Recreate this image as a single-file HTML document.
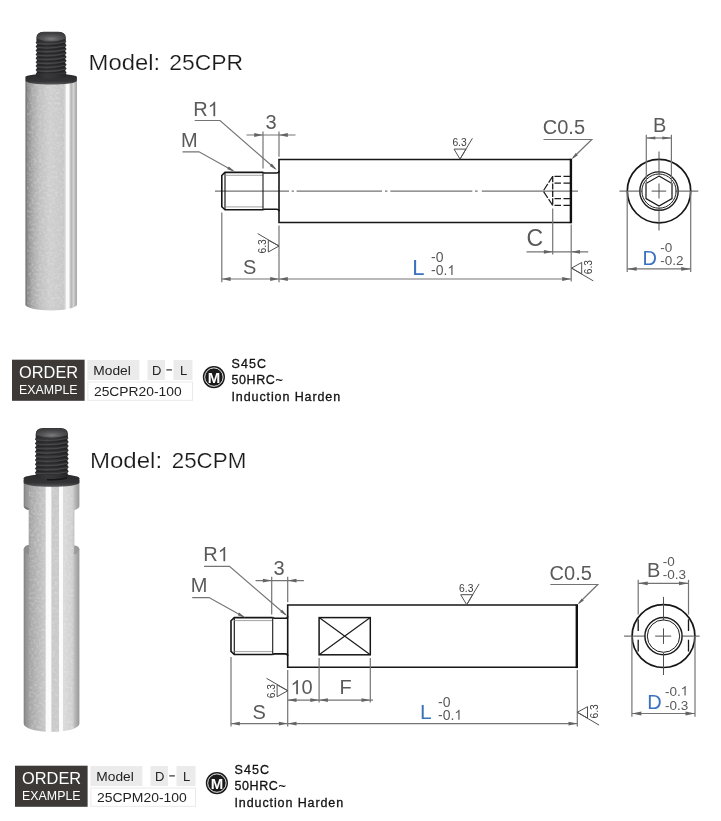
<!DOCTYPE html>
<html><head><meta charset="utf-8">
<style>
html,body{margin:0;padding:0;background:#fff;}
body{width:721px;height:821px;overflow:hidden;position:relative;font-family:"Liberation Sans",sans-serif;}
svg{position:absolute;left:0;top:0;will-change:transform;}
svg text{font-family:"Liberation Sans",sans-serif;}
.t{fill:#5a5a5a;font-size:20px;}
.t63{fill:#3c3c3c;font-size:10.3px;}
.sf{stroke:#505050;stroke-width:1;fill:none;}
.ts{fill:#5a5a5a;font-size:14px;}
.tb{fill:#3a72c0;font-size:22px;}
.title{fill:#1a1a1a;font-size:22px;stroke:#fff;stroke-width:0.2;paint-order:fill stroke;}
.k{stroke:#161616;stroke-width:1.6;fill:none;}
.kt{stroke:#1c1c1c;stroke-width:0.8;fill:none;}
.kk{stroke:#111;stroke-width:2.4;fill:none;}
.d{stroke:#747474;stroke-width:1.2;fill:none;}
.kg{stroke:#8a8a8a;stroke-width:0.8;fill:none;}
.a{fill:#646464;stroke:none;}
.c{stroke:#505050;stroke-width:1;fill:none;}
</style></head><body>
<svg width="721" height="821" viewBox="0 0 721 821">
<defs>

<linearGradient id="cyl" x1="0" x2="1" y1="0" y2="0">
<stop offset="0" stop-color="#6e6e6e"/><stop offset="0.04" stop-color="#8a8a8a"/>
<stop offset="0.13" stop-color="#a8a8a8"/><stop offset="0.27" stop-color="#c0c0c0"/><stop offset="0.47" stop-color="#cfcfcf"/>
<stop offset="0.74" stop-color="#c8c8c8"/><stop offset="0.775" stop-color="#d8d8d8"/>
<stop offset="0.79" stop-color="#fafafa"/><stop offset="0.845" stop-color="#fafafa"/>
<stop offset="0.87" stop-color="#c8c8c8"/><stop offset="0.9" stop-color="#b6b6b6"/>
<stop offset="0.93" stop-color="#d6d6d6"/><stop offset="0.96" stop-color="#c0c0c0"/>
<stop offset="1" stop-color="#9a9a9a"/>
</linearGradient>
<linearGradient id="thr" x1="0" x2="1" y1="0" y2="0">
<stop offset="0" stop-color="#29292b"/><stop offset="0.35" stop-color="#38383a"/>
<stop offset="0.6" stop-color="#343436"/><stop offset="1" stop-color="#262628"/>
</linearGradient>
<linearGradient id="col" x1="0" x2="0" y1="0" y2="1">
<stop offset="0" stop-color="#2a2a2c"/><stop offset="0.7" stop-color="#343436"/><stop offset="1" stop-color="#5a5a5c"/>
</linearGradient>
<radialGradient id="cap" cx="0.5" cy="0.72" r="0.62">
<stop offset="0" stop-color="#7c7c7e"/><stop offset="0.45" stop-color="#58585a"/><stop offset="1" stop-color="#3e3e40"/>
</radialGradient>

<filter id="noise" x="0" y="0" width="1" height="1"><feTurbulence type="fractalNoise" baseFrequency="0.38" numOctaves="2" seed="7" result="n"/>
<feColorMatrix in="n" type="matrix" values="0 0 0 0 1  0 0 0 0 1  0 0 0 0 1  2.2 0 0 0 -0.95"/><feComposite operator="in" in2="SourceGraphic"/></filter>

<linearGradient id="cyl2" x1="0" x2="1" y1="0" y2="0">
<stop offset="0" stop-color="#7e7e7e"/><stop offset="0.04" stop-color="#959595"/>
<stop offset="0.12" stop-color="#a6a6a6"/><stop offset="0.28" stop-color="#bcbcbc"/>
<stop offset="0.385" stop-color="#c8c8c8"/><stop offset="0.405" stop-color="#fbfbfb"/>
<stop offset="0.49" stop-color="#fbfbfb"/><stop offset="0.505" stop-color="#cacaca"/>
<stop offset="0.625" stop-color="#cacaca"/><stop offset="0.64" stop-color="#fbfbfb"/>
<stop offset="0.70" stop-color="#fbfbfb"/><stop offset="0.715" stop-color="#dadada"/>
<stop offset="0.87" stop-color="#d0d0d0"/><stop offset="0.94" stop-color="#b0b0b0"/>
<stop offset="1" stop-color="#969696"/>
</linearGradient>

</defs>
<path d="M36.4,41.7 L36.4,37.7 Q36.4,32.0 43.6,31.7 L58.599999999999994,31.7 Q65.8,32.0 65.8,37.7 L65.8,41.7 L66.6,41.3 L65.0,43.3 L66.6,45.2 L65.0,47.2 L66.6,49.1 L65.0,51.1 L66.6,53.0 L65.0,55.0 L66.6,56.9 L65.0,58.9 L66.6,60.8 L65.0,62.8 L66.6,64.7 L65.0,66.7 L66.6,68.6 L65.0,70.6 L66.6,72.5 L65.0,74.5 L65.6,79 L36.6,79 L37.2,75.8 L35.6,73.9 L37.2,71.9 L35.6,70.0 L37.2,68.0 L35.6,66.1 L37.2,64.1 L35.6,62.2 L37.2,60.2 L35.6,58.3 L37.2,56.3 L35.6,54.4 L37.2,52.4 L35.6,50.5 L37.2,48.5 L35.6,46.6 L37.2,44.6 L35.6,42.7 Z" fill="url(#thr)"/>
<path d="M36.800000000000004,43.4 Q51.1,45.4 65.39999999999999,41.8" stroke="#505052" style="stroke-width:1.1" fill="none" opacity="0.75"/>
<path d="M36.800000000000004,45.1 Q51.1,47.1 65.39999999999999,43.5" stroke="#1c1c1e" style="stroke-width:1.1" fill="none" opacity="0.6"/>
<path d="M36.800000000000004,47.3 Q51.1,49.3 65.39999999999999,45.7" stroke="#505052" style="stroke-width:1.1" fill="none" opacity="0.75"/>
<path d="M36.800000000000004,49.0 Q51.1,51.0 65.39999999999999,47.4" stroke="#1c1c1e" style="stroke-width:1.1" fill="none" opacity="0.6"/>
<path d="M36.800000000000004,51.2 Q51.1,53.2 65.39999999999999,49.6" stroke="#505052" style="stroke-width:1.1" fill="none" opacity="0.75"/>
<path d="M36.800000000000004,52.9 Q51.1,54.9 65.39999999999999,51.3" stroke="#1c1c1e" style="stroke-width:1.1" fill="none" opacity="0.6"/>
<path d="M36.800000000000004,55.1 Q51.1,57.1 65.39999999999999,53.5" stroke="#505052" style="stroke-width:1.1" fill="none" opacity="0.75"/>
<path d="M36.800000000000004,56.8 Q51.1,58.8 65.39999999999999,55.2" stroke="#1c1c1e" style="stroke-width:1.1" fill="none" opacity="0.6"/>
<path d="M36.800000000000004,59.0 Q51.1,61.0 65.39999999999999,57.4" stroke="#505052" style="stroke-width:1.1" fill="none" opacity="0.75"/>
<path d="M36.800000000000004,60.7 Q51.1,62.7 65.39999999999999,59.1" stroke="#1c1c1e" style="stroke-width:1.1" fill="none" opacity="0.6"/>
<path d="M36.800000000000004,62.9 Q51.1,64.9 65.39999999999999,61.3" stroke="#505052" style="stroke-width:1.1" fill="none" opacity="0.75"/>
<path d="M36.800000000000004,64.6 Q51.1,66.6 65.39999999999999,63.0" stroke="#1c1c1e" style="stroke-width:1.1" fill="none" opacity="0.6"/>
<path d="M36.800000000000004,66.8 Q51.1,68.8 65.39999999999999,65.2" stroke="#505052" style="stroke-width:1.1" fill="none" opacity="0.75"/>
<path d="M36.800000000000004,68.5 Q51.1,70.5 65.39999999999999,66.9" stroke="#1c1c1e" style="stroke-width:1.1" fill="none" opacity="0.6"/>
<path d="M36.800000000000004,70.7 Q51.1,72.7 65.39999999999999,69.1" stroke="#505052" style="stroke-width:1.1" fill="none" opacity="0.75"/>
<path d="M36.800000000000004,72.4 Q51.1,74.4 65.39999999999999,70.8" stroke="#1c1c1e" style="stroke-width:1.1" fill="none" opacity="0.6"/>
<path d="M36.800000000000004,74.6 Q51.1,76.6 65.39999999999999,73.0" stroke="#505052" style="stroke-width:1.1" fill="none" opacity="0.75"/>
<path d="M36.800000000000004,76.3 Q51.1,78.3 65.39999999999999,74.7" stroke="#1c1c1e" style="stroke-width:1.1" fill="none" opacity="0.6"/>
<path d="M36.800000000000004,38.7 Q36.6,32.3 43.6,32.1 L58.599999999999994,32.1 Q65.6,32.3 65.39999999999999,38.7 Q51.1,44.2 36.800000000000004,38.7 Z" fill="url(#cap)"/>
<path d="M25.4,80.4 L25.4,304.4 A25.75,6.1 0 0 0 76.9,304.4 L76.9,79.4 Z" fill="url(#cyl)"/>
<path d="M27,80.4 L27,304.4 L64.5,308 L64.5,79.4 Z" fill="#fff" filter="url(#noise)" opacity="0.28"/>
<path d="M25.4,77 A25.750000000000004,3.2 0 0 1 76.9,77 L76.9,80.6 A25.750000000000004,4 0 0 1 25.4,80.6 Z" fill="url(#col)"/>
<path d="M36,73.5 L36,77 Q51,80.5 66.2,77 L66.2,73.5 Z" fill="url(#thr)"/>
<path class="c" d="M215,191.1 H289 M291.7,191.1 H293.9 M296.6,191.1 H382 M385,191.1 H387.4 M390.3,191.1 H472.3 M475,191.1 H477.6 M481.8,191.1 H578"/>
<path class="k" d="M263,172.4 L225,172.4 L221.8,175.5 L221.8,206.7 L225,209.8 L263,209.8"/>
<line class="kt" x1="225" y1="172.4" x2="225" y2="209.8" style="stroke-width:1.2"/>
<line class="kg" x1="225" y1="175.3" x2="263" y2="175.3" />
<line class="kg" x1="225" y1="206.9" x2="263" y2="206.9" />
<path class="k" d="M263,172.4 L264.5,173 L276.5,173 Q279,173 279,171 M263,209.8 L264.5,209.2 L276.5,209.2 Q279,209.2 279,211.2"/>
<line class="kt" x1="263" y1="172.4" x2="263" y2="209.8" style="stroke-width:1.1"/>
<path class="k" d="M570.5,159.5 L279,159.5 L279,222.5 L570.5,222.5"/>
<line class="kk" x1="570.9" y1="158.7" x2="570.9" y2="223.3" />
<path class="kt" style="stroke-width:1.3" stroke-dasharray="6.5 2.5" d="M570,176.4 H552.7 M570,183.2 H552.7 M570,198.6 H552.7 M570,205.4 H552.7"/>
<path class="kt" style="stroke-width:1.3" stroke-dasharray="6.2 1.2" d="M552.7,176 V205.8"/>
<path class="kt" style="stroke-width:1.2" stroke-dasharray="7.5 1.5" d="M552.7,176.4 L543.2,191 M552.7,205.4 L543.2,191"/>
<text class="t" x="193.30" y="116.2" >R</text><path d="M763,0 L583,0 L583,1147 Q518,1085 412.5,1023 T223,930 V1104 Q373,1174.5 485.5,1275 T645,1470 H763 Z" fill="#5a5a5a" transform="translate(207.74,116.2) scale(0.00977,-0.00977)"/>
<path class="d" d="M194.7,120.5 L220,120.5 L275.3,168.8"/>
<polygon class="a" points="276.8,170.1 269.7,166.1 271.8,163.6"/>
<text class="t" x="181.1" y="146.8" >M</text>
<path class="d" d="M182.5,151.8 L199,151.8 L233,170.7"/>
<polygon class="a" points="235.0,171.8 227.2,169.3 228.8,166.5"/>
<text class="t" x="265.6" y="129.2" >3</text>
<line class="d" x1="246.5" y1="135" x2="295.5" y2="135" />
<line class="d" x1="263" y1="131.5" x2="263" y2="168.5" />
<line class="d" x1="279" y1="131.5" x2="279" y2="156.8" />
<polygon class="a" points="263.0,135.0 254.2,136.9 254.2,133.1"/>
<polygon class="a" points="279.0,135.0 287.8,133.1 287.8,136.9"/>
<text class="t" x="243" y="274.3" >S</text>
<line class="d" x1="221.8" y1="212.5" x2="221.8" y2="282.3" />
<line class="d" x1="279" y1="225.5" x2="279" y2="282.3" />
<line class="d" x1="221.8" y1="279" x2="571" y2="279" />
<polygon class="a" points="221.8,279.0 230.6,277.1 230.6,280.9"/>
<polygon class="a" points="279.0,279.0 270.2,280.9 270.2,277.1"/>
<polygon class="a" points="279.0,279.0 287.8,277.1 287.8,280.9"/>
<polygon class="a" points="571.0,279.0 562.2,280.9 562.2,277.1"/>
<path class="sf" d="M279,246 L268.3,240.2 L268.3,252 Z M279,246 L257.7,233.6"/><text class="t63" transform="translate(266.1,253.6) rotate(-90)">6.3</text>
<path class="sf" d="M460,159.1 L454,149.1 L466,149.1 Z M460,159.1 L472.4,138.29999999999998"/><text class="t63" x="452.4" y="146.4">6.3</text>
<text class="t" x="542.8" y="134" >C0.5</text>
<path class="d" d="M543.5,139.5 L591.8,139.5 L573,157.8"/>
<polygon class="a" points="571.4,159.4 575.7,153.1 577.8,155.2"/>
<text class="t" x="526.6" y="246.2" style="font-size:23px">C</text>
<line class="d" x1="552.7" y1="208.5" x2="552.7" y2="254.5" />
<line class="d" x1="571.2" y1="224.5" x2="571.2" y2="281.5" />
<line class="d" x1="526.5" y1="251.8" x2="588.2" y2="251.8" />
<polygon class="a" points="552.7,251.8 543.9,253.7 543.9,249.9"/>
<polygon class="a" points="571.2,251.8 580.0,249.9 580.0,253.7"/>
<text class="tb" x="412.3" y="275" >L</text>
<text class="ts" x="431" y="262.2" >-0</text>
<text class="ts" x="431.00" y="275" >-0.</text><path d="M763,0 L583,0 L583,1147 Q518,1085 412.5,1023 T223,930 V1104 Q373,1174.5 485.5,1275 T645,1470 H763 Z" fill="#5a5a5a" transform="translate(447.34,275) scale(0.00684,-0.00684)"/>
<path class="sf" d="M571.5,268.1 L581.7,262.5 L581.7,273.90000000000003 Z M571.5,268.1 L593.3,280.90000000000003"/><text class="t63" transform="translate(591.7,274.3) rotate(-90)">6.3</text>
<circle class="k" cx="659" cy="191.1" r="31.7" style="stroke-width:1.7"/>
<circle class="kt" cx="659" cy="191.1" r="19.2" style="stroke-width:1.4"/>
<circle class="kt" cx="659" cy="191.1" r="17.1" style="stroke-width:1"/>
<polygon class="k" points="659.0,176.1 672.0,183.6 672.0,198.6 659.0,206.1 646.0,198.6 646.0,183.6" style="stroke-width:1.2"/>
<path class="c" d="M619.4,191.1 H642.6 M651.6,191.1 H666.2 M675,191.1 H698.3 M659,151.5 V174.5 M659,183.5 V198.5 M659,207.5 V230.5"/>
<text class="t" x="653" y="132.4" >B</text>
<line class="d" x1="646.3" y1="138" x2="671.4" y2="138" />
<line class="d" x1="646.3" y1="134.8" x2="646.3" y2="184.5" />
<line class="d" x1="671.4" y1="134.8" x2="671.4" y2="184.5" />
<polygon class="a" points="646.3,138.0 655.3,136.6 655.3,139.4"/>
<polygon class="a" points="671.4,138.0 662.4,139.4 662.4,136.6"/>
<text class="tb" x="642.6" y="265.2" style="font-size:20px">D</text>
<text class="ts" x="660.3" y="251.6" style="font-size:13.5px">-0</text>
<text class="ts" x="660.3" y="265.3" style="font-size:13.5px">-0.2</text>
<line class="d" x1="627.2" y1="191" x2="627.2" y2="272" />
<line class="d" x1="690.7" y1="191" x2="690.7" y2="272" />
<line class="d" x1="627.2" y1="268.9" x2="690.7" y2="268.9" />
<polygon class="a" points="627.2,268.9 636.7,267.0 636.7,270.8"/>
<polygon class="a" points="690.7,268.9 681.2,270.8 681.2,267.0"/>
<text class="title" x="88.6" y="70.3" textLength="71.6" lengthAdjust="spacingAndGlyphs">Model:</text>
<text class="title" x="169.2" y="70.3" textLength="73.8" lengthAdjust="spacingAndGlyphs">25CPR</text>
<rect x="12.0" y="359.7" width="72.6" height="41.1" fill="#3d3937"/>
<text x="19.1" y="378.4" style="font-size:17px;fill:#fff;" textLength="59" lengthAdjust="spacingAndGlyphs">ORDER</text>
<text x="19.1" y="393.6" style="font-size:12.5px;fill:#fff;" textLength="58.5" lengthAdjust="spacingAndGlyphs">EXAMPLE</text>
<rect x="87.4" y="360" width="52" height="20" fill="#ebebeb"/>
<text x="93.3" y="375" style="font-size:13.5px;fill:#222;" textLength="37.5" lengthAdjust="spacingAndGlyphs">Model</text>
<rect x="147.5" y="360" width="17.5" height="20" fill="#ebebeb"/>
<text x="152.0" y="375" style="font-size:13px;fill:#222;">D</text>
<rect x="166.3" y="369.3" width="5.6" height="1.2" fill="#333"/>
<rect x="173.5" y="360" width="19" height="20" fill="#ebebeb"/>
<text x="180.0" y="375" style="font-size:13px;fill:#222;">L</text>
<rect x="87.9" y="382" width="104.6" height="18.3" fill="#fff" stroke="#e9e9e9" style="stroke-width:1"/>
<text x="94.0" y="395.6" style="font-size:13px;fill:#222;" textLength="87.6" lengthAdjust="spacingAndGlyphs">25CPR20-100</text>
<circle cx="213.9" cy="377.1" r="11.1" fill="#1a1a1a"/>
<circle cx="213.9" cy="377.1" r="9.2" fill="none" stroke="#fff" style="stroke-width:0.9"/>
<text x="213.9" y="382.5" text-anchor="middle" style="font-size:15px;font-weight:bold;fill:#fff;">M</text>
<text x="231.5" y="368.4" style="font-size:12.5px;fill:#111;stroke:#111;stroke-width:0.3" textLength="34.6" lengthAdjust="spacing">S45C</text>
<text x="231.5" y="384.1" style="font-size:12.5px;fill:#111;stroke:#111;stroke-width:0.3" textLength="51.2" lengthAdjust="spacing">50HRC~</text>
<text x="231.5" y="401" style="font-size:12.5px;fill:#111;stroke:#111;stroke-width:0.3" textLength="108.6" lengthAdjust="spacing">Induction Harden</text>
<path d="M35.699999999999996,438.1 L35.699999999999996,434.1 Q35.699999999999996,428.40000000000003 42.9,428.1 L60.69999999999999,428.1 Q67.89999999999999,428.40000000000003 67.89999999999999,434.1 L67.89999999999999,438.1 L68.7,437.7 L67.1,439.8 L68.7,441.9 L67.1,444.0 L68.7,446.1 L67.1,448.2 L68.7,450.3 L67.1,452.4 L68.7,454.5 L67.1,456.6 L68.7,458.7 L67.1,460.8 L68.7,462.9 L67.1,465.0 L68.7,467.1 L67.1,469.2 L68.7,471.3 L67.1,473.4 L68.7,475.5 L67.1,477.6 L67.69999999999999,480 L35.9,480 L36.5,479.0 L34.9,476.9 L36.5,474.8 L34.9,472.7 L36.5,470.6 L34.9,468.5 L36.5,466.4 L34.9,464.3 L36.5,462.2 L34.9,460.1 L36.5,458.0 L34.9,455.9 L36.5,453.8 L34.9,451.8 L36.5,449.6 L34.9,447.6 L36.5,445.4 L34.9,443.4 L36.5,441.2 L34.9,439.2 Z" fill="url(#thr)"/>
<path d="M36.1,439.8 Q51.8,441.8 67.49999999999999,438.2" stroke="#505052" style="stroke-width:1.1" fill="none" opacity="0.75"/>
<path d="M36.1,441.5 Q51.8,443.5 67.49999999999999,439.9" stroke="#1c1c1e" style="stroke-width:1.1" fill="none" opacity="0.6"/>
<path d="M36.1,444.0 Q51.8,446.0 67.49999999999999,442.4" stroke="#505052" style="stroke-width:1.1" fill="none" opacity="0.75"/>
<path d="M36.1,445.7 Q51.8,447.7 67.49999999999999,444.1" stroke="#1c1c1e" style="stroke-width:1.1" fill="none" opacity="0.6"/>
<path d="M36.1,448.2 Q51.8,450.2 67.49999999999999,446.6" stroke="#505052" style="stroke-width:1.1" fill="none" opacity="0.75"/>
<path d="M36.1,449.9 Q51.8,451.9 67.49999999999999,448.3" stroke="#1c1c1e" style="stroke-width:1.1" fill="none" opacity="0.6"/>
<path d="M36.1,452.4 Q51.8,454.4 67.49999999999999,450.8" stroke="#505052" style="stroke-width:1.1" fill="none" opacity="0.75"/>
<path d="M36.1,454.1 Q51.8,456.1 67.49999999999999,452.5" stroke="#1c1c1e" style="stroke-width:1.1" fill="none" opacity="0.6"/>
<path d="M36.1,456.6 Q51.8,458.6 67.49999999999999,455.0" stroke="#505052" style="stroke-width:1.1" fill="none" opacity="0.75"/>
<path d="M36.1,458.3 Q51.8,460.3 67.49999999999999,456.7" stroke="#1c1c1e" style="stroke-width:1.1" fill="none" opacity="0.6"/>
<path d="M36.1,460.8 Q51.8,462.8 67.49999999999999,459.2" stroke="#505052" style="stroke-width:1.1" fill="none" opacity="0.75"/>
<path d="M36.1,462.5 Q51.8,464.5 67.49999999999999,460.9" stroke="#1c1c1e" style="stroke-width:1.1" fill="none" opacity="0.6"/>
<path d="M36.1,465.0 Q51.8,467.0 67.49999999999999,463.4" stroke="#505052" style="stroke-width:1.1" fill="none" opacity="0.75"/>
<path d="M36.1,466.7 Q51.8,468.7 67.49999999999999,465.1" stroke="#1c1c1e" style="stroke-width:1.1" fill="none" opacity="0.6"/>
<path d="M36.1,469.2 Q51.8,471.2 67.49999999999999,467.6" stroke="#505052" style="stroke-width:1.1" fill="none" opacity="0.75"/>
<path d="M36.1,470.9 Q51.8,472.9 67.49999999999999,469.3" stroke="#1c1c1e" style="stroke-width:1.1" fill="none" opacity="0.6"/>
<path d="M36.1,473.4 Q51.8,475.4 67.49999999999999,471.8" stroke="#505052" style="stroke-width:1.1" fill="none" opacity="0.75"/>
<path d="M36.1,475.1 Q51.8,477.1 67.49999999999999,473.5" stroke="#1c1c1e" style="stroke-width:1.1" fill="none" opacity="0.6"/>
<path d="M36.1,477.6 Q51.8,479.6 67.49999999999999,476.0" stroke="#505052" style="stroke-width:1.1" fill="none" opacity="0.75"/>
<path d="M36.1,479.3 Q51.8,481.3 67.49999999999999,477.7" stroke="#1c1c1e" style="stroke-width:1.1" fill="none" opacity="0.6"/>
<path d="M36.1,435.1 Q35.9,428.70000000000005 42.9,428.5 L60.69999999999999,428.5 Q67.69999999999999,428.70000000000005 67.49999999999999,435.1 Q51.8,440.6 36.1,435.1 Z" fill="url(#cap)"/>
<path d="M23.7,480 L23.7,506.2 Q24.2,509 28.7,510 L28.7,545 Q24.7,545.5 23.7,549 L23.7,723.7 A27.85,8.1 0 0 0 79.4,723.7 L79.4,549 Q78.4,545.5 74.4,545.5 L74.4,510 Q78.9,509 79.4,506.2 L79.4,480 Z" fill="url(#cyl2)"/>
<path d="M28.8,486 H45.8 V729 H28.8 Z M52.2,486 H58.6 V731 H52.2 Z M64,486 H74 V729 H64 Z" fill="#fff" filter="url(#noise)" opacity="0.28"/>
<path d="M28.7,545 Q24.5,545.5 23.7,549.5 Q25.7,554 28.9,554.5 Z" fill="#8c8c8c"/>
<path d="M74.4,545.5 Q78.60000000000001,546 79.4,549.5 Q77.4,554 74.2,554.5 Z" fill="#9a9a9a"/>
<path d="M23.7,506.2 Q24.2,509 28.7,510 L28.7,508 Z" fill="#777"/>
<path d="M23.7,478.3 A27.85,4.4 0 0 1 79.4,478.3 L79.4,482.8 A27.85,4 0 0 1 23.7,482.8 Z" fill="url(#col)"/>
<path d="M35.5,474.5 L35.5,477.5 Q51.8,482 68.3,477.5 L68.3,474.5 Z" fill="url(#thr)"/>
<path d="M47,479.5 Q58,480.5 67,478" stroke="#161616" style="stroke-width:1.6" fill="none"/>
<text class="title" x="89.9" y="467.8" textLength="72.2" lengthAdjust="spacingAndGlyphs">Model:</text>
<text class="title" x="171.7" y="467.8" textLength="74.6" lengthAdjust="spacingAndGlyphs">25CPM</text>
<path class="k" d="M272.7,617.6 L234.3,617.6 L231,620.8 L231,651.3 L234.3,654.5 L272.7,654.5"/>
<line class="kt" x1="234.3" y1="617.6" x2="234.3" y2="654.5" style="stroke-width:1.2"/>
<line class="kg" x1="234.3" y1="620.6" x2="272.7" y2="620.6" />
<line class="kg" x1="234.3" y1="651.6" x2="272.7" y2="651.6" />
<path class="k" d="M272.7,617.6 L274.2,618.2 L285.2,618.2 Q287.7,618.2 287.7,616.2 M272.7,654.5 L274.2,653.9 L285.2,653.9 Q287.7,653.9 287.7,655.9"/>
<line class="kt" x1="272.7" y1="617.6" x2="272.7" y2="654.5" style="stroke-width:1.1"/>
<path class="k" d="M576.3,605 L287.7,605 L287.7,667.3 L576.3,667.3"/>
<line class="kk" x1="576.8" y1="604.2" x2="576.8" y2="668.1" />
<rect class="k" x="319.1" y="617.6" width="51.2" height="37.2" style="stroke-width:1.5"/>
<path class="kt" d="M319.1,617.6 L370.3,654.8 M370.3,617.6 L319.1,654.8" style="stroke-width:1.2"/>
<text class="t" x="203.30" y="561.3" >R</text><path d="M763,0 L583,0 L583,1147 Q518,1085 412.5,1023 T223,930 V1104 Q373,1174.5 485.5,1275 T645,1470 H763 Z" fill="#5a5a5a" transform="translate(217.74,561.3) scale(0.00977,-0.00977)"/>
<path class="d" d="M204,566.4 L229.5,566.4 L285.7,614.7"/>
<polygon class="a" points="287.2,616.0 280.2,611.9 282.1,609.7"/>
<text class="t" x="190.8" y="592.2" >M</text>
<path class="d" d="M192.2,597.6 L209,597.6 L243.5,616.8"/>
<polygon class="a" points="245.4,617.8 237.7,615.3 239.1,612.6"/>
<text class="t" x="273.4" y="575.2" >3</text>
<line class="d" x1="255.6" y1="580.6" x2="303.9" y2="580.6" />
<line class="d" x1="271.7" y1="576.8" x2="271.7" y2="614.5" />
<line class="d" x1="287.7" y1="576.8" x2="287.7" y2="602.3" />
<polygon class="a" points="271.7,580.6 262.9,582.5 262.9,578.7"/>
<polygon class="a" points="287.7,580.6 296.5,578.7 296.5,582.5"/>
<text class="t" x="252.5" y="718.6" >S</text>
<line class="d" x1="231" y1="657" x2="231" y2="726.5" />
<line class="d" x1="287.7" y1="670" x2="287.7" y2="726.5" />
<line class="d" x1="231" y1="723.6" x2="577.3" y2="723.6" />
<polygon class="a" points="231.0,723.6 239.8,721.7 239.8,725.5"/>
<polygon class="a" points="287.7,723.6 278.9,725.5 278.9,721.7"/>
<polygon class="a" points="287.7,723.6 296.5,721.7 296.5,725.5"/>
<polygon class="a" points="577.3,723.6 568.5,725.5 568.5,721.7"/>
<path class="sf" d="M287.8,690.7 L277.1,684.9000000000001 L277.1,696.7 Z M287.8,690.7 L266.5,678.3000000000001"/><text class="t63" transform="translate(274.90000000000003,698.3000000000001) rotate(-90)">6.3</text>
<path d="M763,0 L583,0 L583,1147 Q518,1085 412.5,1023 T223,930 V1104 Q373,1174.5 485.5,1275 T645,1470 H763 Z" fill="#5a5a5a" transform="translate(290.50,694.3) scale(0.00977,-0.00977)"/><text class="t" x="301.62" y="694.3" >0</text>
<text class="t" x="339.5" y="694.3" >F</text>
<line class="d" x1="319.1" y1="658" x2="319.1" y2="702.5" />
<line class="d" x1="370.3" y1="658" x2="370.3" y2="702.5" />
<line class="d" x1="287.7" y1="700.1" x2="373" y2="700.1" />
<polygon class="a" points="287.7,700.1 296.5,698.2 296.5,702.0"/>
<polygon class="a" points="319.1,700.1 310.3,702.0 310.3,698.2"/>
<polygon class="a" points="319.1,700.1 327.9,698.2 327.9,702.0"/>
<polygon class="a" points="370.3,700.1 361.5,702.0 361.5,698.2"/>
<path class="sf" d="M466.7,604.7 L460.7,594.7 L472.7,594.7 Z M466.7,604.7 L479.09999999999997,583.9000000000001"/><text class="t63" x="459.09999999999997" y="592.0">6.3</text>
<text class="t" x="549.6" y="580" >C0.5</text>
<path class="d" d="M550.3,584.5 L597.8,584.5 L579,603"/>
<polygon class="a" points="577.4,604.7 581.7,598.4 583.8,600.5"/>
<text class="tb" x="420" y="718.8" style="font-size:21px">L</text>
<text class="ts" x="438" y="706.6" >-0</text>
<text class="ts" x="438.00" y="719.7" >-0.</text><path d="M763,0 L583,0 L583,1147 Q518,1085 412.5,1023 T223,930 V1104 Q373,1174.5 485.5,1275 T645,1470 H763 Z" fill="#5a5a5a" transform="translate(454.34,719.7) scale(0.00684,-0.00684)"/>
<line class="d" x1="577.3" y1="670" x2="577.3" y2="726.5" />
<path class="sf" d="M577.3,712.3 L587.5,706.6999999999999 L587.5,718.0999999999999 Z M577.3,712.3 L599.0999999999999,725.0999999999999"/><text class="t63" transform="translate(597.5,718.5) rotate(-90)">6.3</text>
<circle class="k" cx="663.5" cy="636.1" r="31.4" style="stroke-width:1.7"/>
<circle class="kt" cx="663.5" cy="636.1" r="18.6" style="stroke-width:1.5"/>
<circle class="kt" cx="663.5" cy="636.1" r="16.2" style="stroke-width:1"/>
<path class="c" d="M624,636.1 H644.2 M655.2,636.1 H671.2 M682,636.1 H699.6 M663.5,596.9 V620.5 M663.5,628.4 V643.9 M663.5,652.9 V675"/>
<path class="k" style="stroke-width:1.3" d="M638.2,619.3 V631.1 M638.2,639.7 V651.5 M688.5,619.3 V631.1 M688.5,639.7 V651.5"/>
<text class="t" x="647" y="577.3" >B</text>
<text class="ts" x="662.8" y="565.7" style="font-size:13.5px">-0</text>
<text class="ts" x="662.8" y="579.1" style="font-size:13.5px">-0.3</text>
<line class="d" x1="638.2" y1="583.3" x2="688.5" y2="583.3" />
<line class="d" x1="638.2" y1="579.8" x2="638.2" y2="614.5" />
<line class="d" x1="688.5" y1="579.8" x2="688.5" y2="614.5" />
<polygon class="a" points="638.2,583.3 647.7,581.4 647.7,585.2"/>
<polygon class="a" points="688.5,583.3 679.0,585.2 679.0,581.4"/>
<text class="tb" x="647.3" y="709.3" style="font-size:20px">D</text>
<text class="ts" x="664.90" y="695.6" style="font-size:13.5px">-0.</text><path d="M763,0 L583,0 L583,1147 Q518,1085 412.5,1023 T223,930 V1104 Q373,1174.5 485.5,1275 T645,1470 H763 Z" fill="#5a5a5a" transform="translate(680.65,695.6) scale(0.00659,-0.00659)"/>
<text class="ts" x="664.9" y="709.8" style="font-size:13.5px">-0.3</text>
<line class="d" x1="631.9" y1="636" x2="631.9" y2="716.7" />
<line class="d" x1="695" y1="636" x2="695" y2="716.7" />
<line class="d" x1="631.9" y1="713.5" x2="695" y2="713.5" />
<polygon class="a" points="631.9,713.5 641.4,711.6 641.4,715.4"/>
<polygon class="a" points="695.0,713.5 685.5,715.4 685.5,711.6"/>
<rect x="15.0" y="765.7" width="72.6" height="41.1" fill="#3d3937"/>
<text x="22.1" y="784.4" style="font-size:17px;fill:#fff;" textLength="59" lengthAdjust="spacingAndGlyphs">ORDER</text>
<text x="22.1" y="799.6" style="font-size:12.5px;fill:#fff;" textLength="58.5" lengthAdjust="spacingAndGlyphs">EXAMPLE</text>
<rect x="90.4" y="766" width="52" height="20" fill="#ebebeb"/>
<text x="96.3" y="781" style="font-size:13.5px;fill:#222;" textLength="37.5" lengthAdjust="spacingAndGlyphs">Model</text>
<rect x="150.5" y="766" width="17.5" height="20" fill="#ebebeb"/>
<text x="155.0" y="781" style="font-size:13px;fill:#222;">D</text>
<rect x="169.3" y="775.3" width="5.6" height="1.2" fill="#333"/>
<rect x="176.5" y="766" width="19" height="20" fill="#ebebeb"/>
<text x="183.0" y="781" style="font-size:13px;fill:#222;">L</text>
<rect x="90.9" y="788" width="104.6" height="18.3" fill="#fff" stroke="#e9e9e9" style="stroke-width:1"/>
<text x="97.0" y="801.6" style="font-size:13px;fill:#222;" textLength="89.8" lengthAdjust="spacingAndGlyphs">25CPM20-100</text>
<circle cx="216.9" cy="783.1" r="11.1" fill="#1a1a1a"/>
<circle cx="216.9" cy="783.1" r="9.2" fill="none" stroke="#fff" style="stroke-width:0.9"/>
<text x="216.9" y="788.5" text-anchor="middle" style="font-size:15px;font-weight:bold;fill:#fff;">M</text>
<text x="234.5" y="774.4" style="font-size:12.5px;fill:#111;stroke:#111;stroke-width:0.3" textLength="34.6" lengthAdjust="spacing">S45C</text>
<text x="234.5" y="790.1" style="font-size:12.5px;fill:#111;stroke:#111;stroke-width:0.3" textLength="51.2" lengthAdjust="spacing">50HRC~</text>
<text x="234.5" y="807" style="font-size:12.5px;fill:#111;stroke:#111;stroke-width:0.3" textLength="108.6" lengthAdjust="spacing">Induction Harden</text>
</svg>
</body></html>
